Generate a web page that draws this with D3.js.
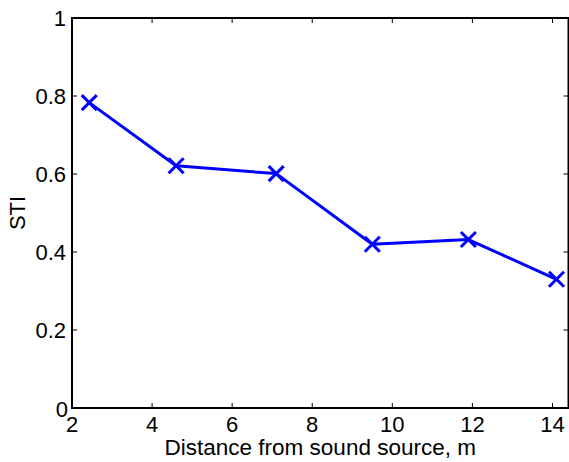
<!DOCTYPE html>
<html>
<head>
<meta charset="utf-8">
<script src="https://cdn.jsdelivr.net/npm/d3@7"></script>
<style>
  html, body { margin: 0; padding: 0; background: #fff; }
  svg { display: block; }
</style>
</head>
<body>
<div id="chart"></div>
<script>
// Data
const distances = [2.43, 4.6, 7.1, 9.5, 11.9, 14.1];
const stiValues = [0.783, 0.621, 0.601, 0.42, 0.432, 0.33];
const xTicks = [2, 4, 6, 8, 10, 12, 14];
const yTicks = [0, 0.2, 0.4, 0.6, 0.8, 1];

const width = 569, height = 462;
const margin = { top: 18, right: 0.5, bottom: 54, left: 72 };
const FONT = 'Liberation Sans, Arial, Helvetica, sans-serif';
const FONT_SIZE = '22px';

const svg = d3.select('#chart')
  .append('svg')
  .attr('width', width)
  .attr('height', height);

const x = d3.scaleLinear()
  .domain([2, 14.4])
  .range([margin.left, width - margin.right]);

const y = d3.scaleLinear()
  .domain([0, 1])
  .range([height - margin.bottom, margin.top]);

const x0 = x.range()[0], x1 = x.range()[1];
const y0 = y.range()[0], y1 = y.range()[1];

// Tick marks inside the box, on all four sides
const ticks = svg.append('g').attr('stroke', '#000').attr('stroke-width', 1);
xTicks.forEach(t => {
  ticks.append('line').attr('x1', x(t)).attr('x2', x(t)).attr('y1', y0).attr('y2', y0 - 5);
  ticks.append('line').attr('x1', x(t)).attr('x2', x(t)).attr('y1', y1).attr('y2', y1 + 5);
});
yTicks.forEach(t => {
  ticks.append('line').attr('x1', x0).attr('x2', x0 + 5).attr('y1', y(t)).attr('y2', y(t));
  ticks.append('line').attr('x1', x1).attr('x2', x1 - 5).attr('y1', y(t)).attr('y2', y(t));
});

// Axes box
svg.append('rect')
  .attr('x', x0)
  .attr('y', y1)
  .attr('width', x1 - x0)
  .attr('height', y0 - y1)
  .attr('fill', 'none')
  .attr('stroke', '#000')
  .attr('stroke-width', 2);

// Tick labels
svg.append('g')
  .selectAll('text')
  .data(xTicks)
  .join('text')
  .attr('x', d => x(d))
  .attr('y', y0 + 24)
  .attr('text-anchor', 'middle')
  .attr('font-family', FONT)
  .attr('font-size', FONT_SIZE)
  .text(d => d);

svg.append('g')
  .selectAll('text')
  .data(yTicks)
  .join('text')
  .attr('x', d => d === 0 ? x0 - 4 : x0 - 6)
  .attr('y', d => d === 0 ? y(d) + 9 : y(d) + 8)
  .attr('text-anchor', 'end')
  .attr('font-family', FONT)
  .attr('font-size', FONT_SIZE)
  .text(d => d);

// Axis titles
svg.append('text')
  .attr('x', (x0 + x1) / 2)
  .attr('y', 455)
  .attr('text-anchor', 'middle')
  .attr('font-family', FONT)
  .attr('font-size', '22.5px')
  .text('Distance from sound source, m');

svg.append('text')
  .attr('transform', `translate(25,${(y0 + y1) / 2}) rotate(-90)`)
  .attr('text-anchor', 'middle')
  .attr('font-family', FONT)
  .attr('font-size', FONT_SIZE)
  .text('STI');

// Data line
const points = distances.map((d, i) => [d, stiValues[i]]);

svg.append('path')
  .datum(points)
  .attr('fill', 'none')
  .attr('stroke', '#0000ff')
  .attr('stroke-width', 3)
  .attr('stroke-linejoin', 'round')
  .attr('d', d3.line().x(d => x(d[0])).y(d => y(d[1])));

// X markers
const m = 7.5;
svg.append('g')
  .selectAll('path')
  .data(points)
  .join('path')
  .attr('fill', 'none')
  .attr('stroke', '#0000ff')
  .attr('stroke-width', 3)
  .attr('d', d => {
    const cx = x(d[0]), cy = y(d[1]);
    return `M${cx - m},${cy - m}L${cx + m},${cy + m}M${cx - m},${cy + m}L${cx + m},${cy - m}`;
  });
</script>
</body>
</html>
